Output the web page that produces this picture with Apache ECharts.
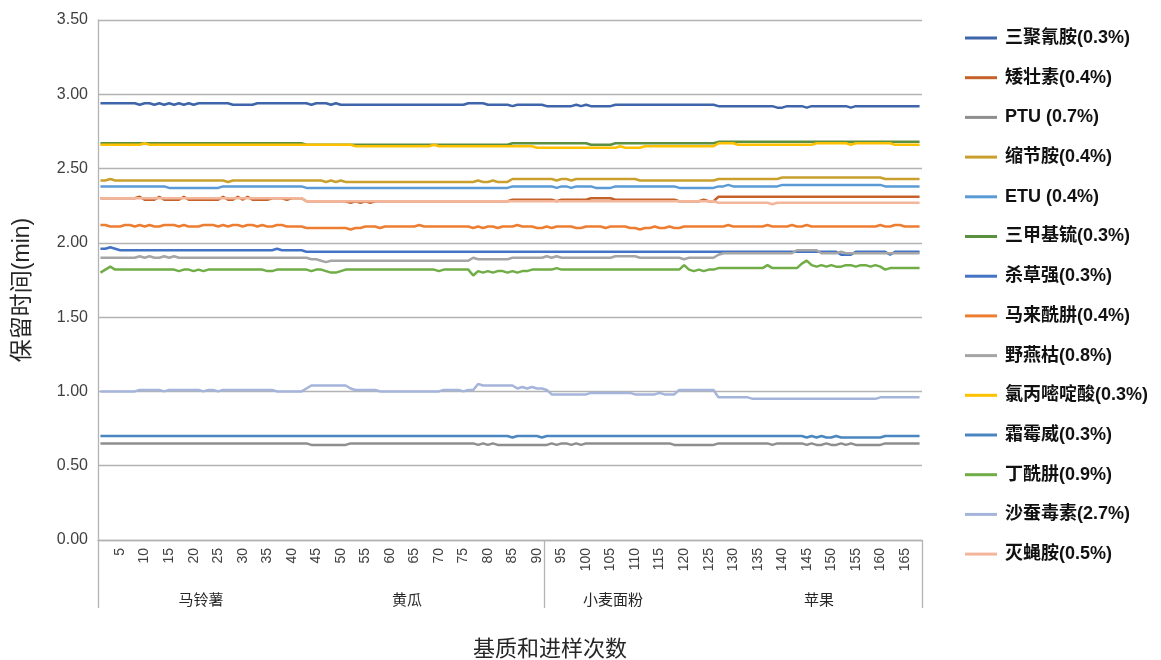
<!DOCTYPE html>
<html><head><meta charset="utf-8">
<script src="https://cdn.jsdelivr.net/npm/echarts@6/dist/echarts.min.js"></script>
<style>html,body{margin:0;padding:0;background:#fff}#c{width:1161px;height:660px}</style>
</head><body><div id="c"></div>
<script>
// injection numbers 1..168
const injections = Array.from({length: 168}, (_, i) => String(i + 1));
const matrices = ['马铃薯', '黄瓜', '小麦面粉', '苹果'];
const seriesNames = ['三聚氰胺(0.3%)','矮壮素(0.4%)','PTU (0.7%)','缩节胺(0.4%)','ETU (0.4%)','三甲基锍(0.3%)','杀草强(0.3%)','马来酰肼(0.4%)','野燕枯(0.8%)','氯丙嘧啶酸(0.3%)','霜霉威(0.3%)','丁酰肼(0.9%)','沙蚕毒素(2.7%)','灭蝇胺(0.5%)'];
const colors = ['#3E64AA','#C5622A','#8E8E8E','#C9A02E','#5B9BD5','#5A9040','#4472C4','#ED7D31','#A5A5A5','#FFC000','#4A86C0','#70AD47','#A4B4DA','#F4B69A'];

const sanjuqingan = [
2.94,2.94,2.94,2.94,2.94,2.94,2.94,2.94,2.93,2.94,2.94,2.93,2.94,2.93,2.94,2.93,2.94,2.93,2.94,2.93,2.94,
2.94,2.94,2.94,2.94,2.94,2.94,2.93,2.93,2.93,2.93,2.93,2.94,2.94,2.94,2.94,2.94,2.94,2.94,2.94,2.94,2.94,
2.94,2.93,2.94,2.94,2.94,2.93,2.94,2.93,2.93,2.93,2.93,2.93,2.93,2.93,2.93,2.93,2.93,2.93,2.93,2.93,2.93,
2.93,2.93,2.93,2.93,2.93,2.93,2.93,2.93,2.93,2.93,2.93,2.93,2.94,2.94,2.94,2.94,2.93,2.93,2.93,2.93,2.93,
2.92,2.93,2.93,2.93,2.93,2.93,2.93,2.92,2.92,2.92,2.92,2.92,2.92,2.93,2.92,2.93,2.92,2.92,2.92,2.92,2.92,
2.93,2.93,2.93,2.93,2.93,2.93,2.93,2.93,2.93,2.93,2.93,2.93,2.93,2.93,2.93,2.93,2.93,2.93,2.93,2.93,2.93,
2.92,2.92,2.92,2.92,2.92,2.92,2.92,2.92,2.92,2.92,2.92,2.92,2.91,2.91,2.92,2.92,2.92,2.92,2.91,2.92,2.92,
2.92,2.92,2.92,2.92,2.92,2.92,2.91,2.92,2.92,2.92,2.92,2.92,2.92,2.92,2.92,2.92,2.92,2.92,2.92,2.92,2.92];

const aizhuangsu = [
2.30,2.30,2.30,2.30,2.30,2.30,2.30,2.30,2.31,2.29,2.29,2.29,2.31,2.29,2.29,2.29,2.29,2.31,2.29,2.29,2.29,
2.29,2.29,2.29,2.29,2.31,2.29,2.29,2.31,2.29,2.31,2.29,2.29,2.29,2.29,2.30,2.30,2.30,2.29,2.30,2.30,2.30,
2.28,2.28,2.28,2.28,2.28,2.28,2.28,2.28,2.28,2.27,2.28,2.27,2.28,2.27,2.28,2.28,2.28,2.28,2.28,2.28,2.28,
2.28,2.28,2.28,2.28,2.28,2.28,2.28,2.28,2.28,2.28,2.28,2.28,2.28,2.28,2.28,2.28,2.28,2.28,2.28,2.28,2.28,
2.29,2.29,2.29,2.29,2.29,2.29,2.29,2.29,2.29,2.28,2.29,2.29,2.29,2.29,2.29,2.29,2.30,2.30,2.30,2.30,2.30,
2.29,2.29,2.29,2.29,2.29,2.29,2.29,2.29,2.29,2.29,2.29,2.29,2.29,2.28,2.28,2.28,2.28,2.28,2.29,2.28,2.28,
2.31,2.31,2.31,2.31,2.31,2.31,2.31,2.31,2.31,2.31,2.31,2.31,2.31,2.31,2.31,2.31,2.31,2.31,2.31,2.31,2.31,
2.31,2.31,2.31,2.31,2.31,2.31,2.31,2.31,2.31,2.31,2.31,2.31,2.31,2.31,2.31,2.31,2.31,2.31,2.31,2.31,2.31];

const ptu = [
0.65,0.65,0.65,0.65,0.65,0.65,0.65,0.65,0.65,0.65,0.65,0.65,0.65,0.65,0.65,0.65,0.65,0.65,0.65,0.65,0.65,
0.65,0.65,0.65,0.65,0.65,0.65,0.65,0.65,0.65,0.65,0.65,0.65,0.65,0.65,0.65,0.65,0.65,0.65,0.65,0.65,0.65,
0.65,0.64,0.64,0.64,0.64,0.64,0.64,0.64,0.64,0.65,0.65,0.65,0.65,0.65,0.65,0.65,0.65,0.65,0.65,0.65,0.65,
0.65,0.65,0.65,0.65,0.65,0.65,0.65,0.65,0.65,0.65,0.65,0.65,0.65,0.65,0.64,0.65,0.64,0.65,0.64,0.64,0.64,
0.64,0.64,0.64,0.64,0.64,0.64,0.64,0.64,0.65,0.64,0.65,0.65,0.64,0.65,0.64,0.65,0.65,0.65,0.65,0.65,0.65,
0.65,0.65,0.65,0.65,0.65,0.65,0.65,0.65,0.65,0.65,0.65,0.65,0.64,0.64,0.64,0.64,0.64,0.64,0.64,0.64,0.64,
0.65,0.65,0.65,0.65,0.65,0.65,0.65,0.65,0.65,0.65,0.65,0.64,0.65,0.65,0.65,0.65,0.65,0.65,0.64,0.65,0.64,
0.64,0.65,0.64,0.64,0.65,0.64,0.65,0.64,0.64,0.64,0.64,0.64,0.64,0.65,0.65,0.65,0.65,0.65,0.65,0.65,0.65];

const suojiean = [
2.42,2.42,2.43,2.42,2.42,2.42,2.42,2.42,2.42,2.42,2.42,2.42,2.42,2.42,2.42,2.42,2.42,2.42,2.42,2.42,2.42,
2.42,2.42,2.42,2.42,2.42,2.41,2.42,2.42,2.42,2.42,2.42,2.42,2.42,2.42,2.42,2.42,2.42,2.42,2.42,2.42,2.42,
2.42,2.42,2.42,2.42,2.41,2.42,2.41,2.42,2.41,2.41,2.41,2.41,2.41,2.41,2.41,2.41,2.41,2.41,2.41,2.41,2.41,
2.41,2.41,2.41,2.41,2.41,2.41,2.41,2.41,2.41,2.41,2.41,2.41,2.41,2.41,2.42,2.41,2.41,2.42,2.41,2.41,2.41,
2.43,2.43,2.43,2.43,2.43,2.43,2.43,2.43,2.43,2.42,2.43,2.43,2.42,2.43,2.43,2.43,2.43,2.43,2.43,2.43,2.43,
2.43,2.43,2.43,2.43,2.43,2.42,2.42,2.42,2.42,2.42,2.42,2.42,2.42,2.42,2.42,2.42,2.42,2.42,2.42,2.42,2.42,
2.43,2.43,2.43,2.43,2.43,2.43,2.43,2.43,2.43,2.43,2.43,2.43,2.43,2.44,2.44,2.44,2.44,2.44,2.44,2.44,2.44,
2.44,2.44,2.44,2.44,2.44,2.44,2.44,2.44,2.44,2.44,2.44,2.44,2.44,2.43,2.43,2.43,2.43,2.43,2.43,2.43,2.43];

const etu = [
2.38,2.38,2.38,2.38,2.38,2.38,2.38,2.38,2.38,2.38,2.38,2.38,2.38,2.38,2.37,2.37,2.37,2.37,2.37,2.37,2.37,
2.37,2.37,2.37,2.37,2.38,2.38,2.38,2.38,2.38,2.38,2.38,2.38,2.38,2.38,2.38,2.38,2.38,2.38,2.38,2.38,2.38,
2.37,2.37,2.37,2.37,2.37,2.37,2.37,2.37,2.37,2.37,2.37,2.37,2.37,2.37,2.37,2.37,2.37,2.37,2.37,2.37,2.37,
2.37,2.37,2.37,2.37,2.37,2.37,2.37,2.37,2.37,2.37,2.37,2.37,2.37,2.37,2.37,2.37,2.37,2.37,2.37,2.37,2.37,
2.38,2.38,2.38,2.38,2.38,2.38,2.38,2.38,2.38,2.37,2.38,2.38,2.37,2.38,2.38,2.38,2.38,2.37,2.37,2.37,2.37,
2.38,2.38,2.38,2.38,2.38,2.38,2.38,2.38,2.38,2.38,2.38,2.38,2.38,2.37,2.37,2.37,2.37,2.37,2.37,2.37,2.37,
2.38,2.38,2.39,2.38,2.38,2.38,2.38,2.38,2.38,2.38,2.38,2.38,2.38,2.39,2.39,2.39,2.39,2.39,2.39,2.39,2.39,
2.39,2.39,2.39,2.39,2.39,2.39,2.39,2.39,2.39,2.39,2.39,2.39,2.39,2.38,2.38,2.38,2.38,2.38,2.38,2.38,2.38];

const sanjiajiliu = [
2.67,2.67,2.67,2.67,2.67,2.67,2.67,2.67,2.67,2.67,2.67,2.67,2.67,2.67,2.67,2.67,2.67,2.67,2.67,2.67,2.67,
2.67,2.67,2.67,2.67,2.67,2.67,2.67,2.67,2.67,2.67,2.67,2.67,2.67,2.67,2.67,2.67,2.67,2.67,2.67,2.67,2.67,
2.66,2.66,2.66,2.66,2.66,2.66,2.66,2.66,2.66,2.66,2.66,2.66,2.66,2.66,2.66,2.66,2.66,2.66,2.66,2.66,2.66,
2.66,2.66,2.66,2.66,2.66,2.66,2.66,2.66,2.66,2.66,2.66,2.66,2.66,2.66,2.66,2.66,2.66,2.66,2.66,2.66,2.66,
2.67,2.67,2.67,2.67,2.67,2.67,2.67,2.67,2.67,2.67,2.67,2.67,2.67,2.67,2.67,2.67,2.66,2.66,2.66,2.66,2.66,
2.67,2.67,2.67,2.67,2.67,2.67,2.67,2.67,2.67,2.67,2.67,2.67,2.67,2.67,2.67,2.67,2.67,2.67,2.67,2.67,2.67,
2.68,2.68,2.68,2.68,2.68,2.68,2.68,2.68,2.68,2.68,2.68,2.68,2.68,2.68,2.68,2.68,2.68,2.68,2.68,2.68,2.68,
2.68,2.68,2.68,2.68,2.68,2.68,2.68,2.68,2.68,2.68,2.68,2.68,2.68,2.68,2.68,2.68,2.68,2.68,2.68,2.68,2.68];

const shacaoqiang = [
1.96,1.96,1.97,1.96,1.95,1.95,1.95,1.95,1.95,1.95,1.95,1.95,1.95,1.95,1.95,1.95,1.95,1.95,1.95,1.95,1.95,
1.95,1.95,1.95,1.95,1.95,1.95,1.95,1.95,1.95,1.95,1.95,1.95,1.95,1.95,1.95,1.96,1.95,1.95,1.95,1.95,1.95,
1.94,1.94,1.94,1.94,1.94,1.94,1.94,1.94,1.94,1.94,1.94,1.94,1.94,1.94,1.94,1.94,1.94,1.94,1.94,1.94,1.94,
1.94,1.94,1.94,1.94,1.94,1.94,1.94,1.94,1.94,1.94,1.94,1.94,1.94,1.94,1.94,1.94,1.94,1.94,1.94,1.94,1.94,
1.94,1.94,1.94,1.94,1.94,1.94,1.94,1.94,1.94,1.94,1.94,1.94,1.94,1.94,1.94,1.94,1.94,1.94,1.94,1.94,1.94,
1.94,1.94,1.94,1.94,1.94,1.94,1.94,1.94,1.94,1.94,1.94,1.94,1.94,1.94,1.94,1.94,1.94,1.94,1.94,1.94,1.94,
1.94,1.94,1.94,1.94,1.94,1.94,1.94,1.94,1.94,1.94,1.94,1.94,1.94,1.94,1.94,1.94,1.94,1.94,1.94,1.94,1.94,
1.94,1.94,1.94,1.94,1.92,1.92,1.92,1.94,1.94,1.94,1.94,1.94,1.94,1.94,1.92,1.94,1.94,1.94,1.94,1.94,1.94];

const malaixianjing = [
2.12,2.12,2.11,2.11,2.11,2.12,2.12,2.11,2.12,2.11,2.12,2.11,2.11,2.12,2.12,2.12,2.11,2.12,2.11,2.11,2.11,
2.12,2.12,2.12,2.11,2.12,2.11,2.12,2.12,2.11,2.12,2.12,2.11,2.12,2.11,2.11,2.12,2.12,2.11,2.11,2.11,2.11,
2.10,2.10,2.10,2.10,2.10,2.10,2.10,2.10,2.10,2.09,2.10,2.10,2.11,2.11,2.11,2.10,2.11,2.11,2.11,2.11,2.11,
2.11,2.11,2.12,2.11,2.11,2.11,2.11,2.11,2.11,2.11,2.11,2.11,2.11,2.10,2.11,2.10,2.11,2.11,2.10,2.11,2.11,
2.11,2.12,2.11,2.11,2.11,2.10,2.10,2.11,2.10,2.11,2.11,2.11,2.11,2.10,2.10,2.11,2.11,2.11,2.11,2.10,2.11,
2.11,2.11,2.11,2.10,2.10,2.09,2.10,2.10,2.11,2.10,2.10,2.11,2.10,2.10,2.11,2.11,2.11,2.11,2.11,2.11,2.11,
2.11,2.11,2.12,2.11,2.11,2.11,2.11,2.11,2.11,2.11,2.12,2.11,2.11,2.11,2.11,2.12,2.11,2.11,2.12,2.11,2.11,
2.11,2.11,2.11,2.11,2.11,2.11,2.11,2.11,2.11,2.11,2.11,2.11,2.12,2.11,2.11,2.12,2.12,2.11,2.11,2.11,2.11];

const yeyanku = [
1.90,1.90,1.90,1.90,1.90,1.90,1.90,1.90,1.91,1.90,1.91,1.90,1.90,1.91,1.90,1.91,1.90,1.90,1.90,1.90,1.90,
1.90,1.90,1.90,1.90,1.90,1.90,1.90,1.90,1.90,1.90,1.90,1.90,1.90,1.90,1.90,1.90,1.90,1.90,1.90,1.90,1.90,
1.90,1.89,1.89,1.88,1.87,1.88,1.88,1.88,1.88,1.88,1.88,1.88,1.88,1.88,1.88,1.88,1.88,1.88,1.88,1.88,1.88,
1.88,1.88,1.88,1.88,1.88,1.88,1.88,1.88,1.88,1.88,1.88,1.88,1.88,1.90,1.89,1.89,1.89,1.89,1.89,1.89,1.89,
1.90,1.90,1.90,1.90,1.90,1.90,1.90,1.91,1.90,1.91,1.90,1.90,1.90,1.90,1.90,1.90,1.90,1.90,1.90,1.90,1.90,
1.91,1.91,1.91,1.91,1.91,1.90,1.90,1.90,1.90,1.90,1.90,1.90,1.90,1.90,1.89,1.90,1.90,1.90,1.90,1.90,1.90,
1.92,1.93,1.93,1.93,1.93,1.93,1.93,1.93,1.93,1.93,1.93,1.93,1.93,1.93,1.93,1.93,1.95,1.95,1.95,1.95,1.95,
1.93,1.93,1.93,1.93,1.94,1.93,1.93,1.93,1.93,1.93,1.93,1.93,1.93,1.93,1.93,1.93,1.93,1.93,1.93,1.93,1.93];

const lvbingmidingsuan = [
2.66,2.66,2.66,2.66,2.66,2.66,2.66,2.66,2.66,2.67,2.66,2.66,2.66,2.66,2.66,2.66,2.66,2.66,2.66,2.66,2.66,
2.66,2.66,2.66,2.66,2.66,2.66,2.66,2.66,2.66,2.66,2.66,2.66,2.66,2.66,2.66,2.66,2.66,2.66,2.66,2.66,2.66,
2.66,2.66,2.66,2.66,2.66,2.66,2.66,2.66,2.66,2.66,2.65,2.65,2.65,2.65,2.65,2.65,2.65,2.65,2.65,2.65,2.65,
2.65,2.65,2.65,2.65,2.65,2.66,2.65,2.65,2.65,2.65,2.65,2.65,2.65,2.65,2.65,2.65,2.65,2.65,2.65,2.65,2.65,
2.65,2.65,2.65,2.65,2.65,2.64,2.64,2.64,2.64,2.64,2.64,2.64,2.64,2.64,2.64,2.64,2.64,2.64,2.64,2.64,2.64,
2.64,2.65,2.64,2.64,2.64,2.64,2.65,2.65,2.65,2.65,2.65,2.65,2.65,2.65,2.65,2.65,2.65,2.65,2.65,2.65,2.65,
2.67,2.67,2.67,2.67,2.66,2.66,2.66,2.66,2.66,2.66,2.66,2.66,2.66,2.66,2.66,2.66,2.66,2.66,2.66,2.66,2.67,
2.67,2.67,2.67,2.67,2.67,2.67,2.66,2.67,2.67,2.67,2.67,2.67,2.67,2.67,2.67,2.66,2.66,2.66,2.66,2.66,2.66];

const shuangmeiwei = [
0.70,0.70,0.70,0.70,0.70,0.70,0.70,0.70,0.70,0.70,0.70,0.70,0.70,0.70,0.70,0.70,0.70,0.70,0.70,0.70,0.70,
0.70,0.70,0.70,0.70,0.70,0.70,0.70,0.70,0.70,0.70,0.70,0.70,0.70,0.70,0.70,0.70,0.70,0.70,0.70,0.70,0.70,
0.70,0.70,0.70,0.70,0.70,0.70,0.70,0.70,0.70,0.70,0.70,0.70,0.70,0.70,0.70,0.70,0.70,0.70,0.70,0.70,0.70,
0.70,0.70,0.70,0.70,0.70,0.70,0.70,0.70,0.70,0.70,0.70,0.70,0.70,0.70,0.70,0.70,0.70,0.70,0.70,0.70,0.70,
0.69,0.70,0.70,0.70,0.70,0.70,0.69,0.70,0.70,0.70,0.70,0.70,0.70,0.70,0.70,0.70,0.70,0.70,0.70,0.70,0.70,
0.70,0.70,0.70,0.70,0.70,0.70,0.70,0.70,0.70,0.70,0.70,0.70,0.70,0.70,0.70,0.70,0.70,0.70,0.70,0.70,0.70,
0.70,0.70,0.70,0.70,0.70,0.70,0.70,0.70,0.70,0.70,0.70,0.70,0.70,0.70,0.70,0.70,0.70,0.70,0.69,0.70,0.69,
0.70,0.69,0.69,0.70,0.69,0.69,0.69,0.69,0.69,0.69,0.69,0.69,0.69,0.70,0.70,0.70,0.70,0.70,0.70,0.70,0.70];

const dingxianjing = [
1.80,1.82,1.84,1.82,1.82,1.82,1.82,1.82,1.82,1.82,1.82,1.82,1.82,1.82,1.82,1.82,1.81,1.82,1.82,1.81,1.82,
1.81,1.82,1.82,1.82,1.82,1.82,1.82,1.82,1.82,1.82,1.82,1.82,1.82,1.81,1.81,1.82,1.82,1.82,1.82,1.82,1.82,
1.82,1.81,1.82,1.82,1.81,1.80,1.80,1.81,1.82,1.82,1.82,1.82,1.82,1.82,1.82,1.82,1.82,1.82,1.82,1.82,1.82,
1.82,1.82,1.82,1.82,1.82,1.82,1.81,1.82,1.82,1.82,1.82,1.82,1.82,1.78,1.81,1.80,1.81,1.80,1.81,1.81,1.80,
1.81,1.80,1.81,1.81,1.82,1.82,1.82,1.82,1.82,1.83,1.82,1.82,1.82,1.82,1.82,1.82,1.82,1.82,1.82,1.82,1.82,
1.82,1.82,1.82,1.82,1.82,1.82,1.82,1.82,1.82,1.82,1.82,1.82,1.82,1.82,1.85,1.82,1.81,1.82,1.81,1.82,1.82,
1.83,1.83,1.83,1.83,1.83,1.83,1.83,1.83,1.83,1.83,1.85,1.83,1.83,1.83,1.83,1.83,1.83,1.86,1.88,1.85,1.84,
1.85,1.84,1.85,1.84,1.84,1.85,1.85,1.84,1.85,1.85,1.84,1.85,1.84,1.82,1.83,1.83,1.83,1.83,1.83,1.83,1.83];

const shacandusu = [
1.00,1.00,1.00,1.00,1.00,1.00,1.00,1.00,1.01,1.01,1.01,1.01,1.01,1.00,1.01,1.01,1.01,1.01,1.01,1.01,1.01,
1.00,1.01,1.01,1.00,1.01,1.01,1.01,1.01,1.01,1.01,1.01,1.01,1.01,1.01,1.01,1.00,1.00,1.00,1.00,1.00,1.00,
1.02,1.04,1.04,1.04,1.04,1.04,1.04,1.04,1.04,1.02,1.01,1.01,1.01,1.01,1.01,1.00,1.00,1.00,1.00,1.00,1.00,
1.00,1.00,1.00,1.00,1.00,1.00,1.00,1.01,1.01,1.01,1.01,1.00,1.01,1.01,1.05,1.04,1.04,1.04,1.04,1.04,1.04,
1.04,1.02,1.03,1.02,1.03,1.02,1.02,1.01,0.98,0.98,0.98,0.98,0.98,0.98,0.98,0.98,0.99,0.99,0.99,0.99,0.99,
0.99,0.99,0.99,0.99,0.98,0.98,0.98,0.98,0.98,0.99,0.98,0.98,0.98,1.01,1.01,1.01,1.01,1.01,1.01,1.01,1.01,
0.96,0.96,0.96,0.96,0.96,0.96,0.96,0.95,0.95,0.95,0.95,0.95,0.95,0.95,0.95,0.95,0.95,0.95,0.95,0.95,0.95,
0.95,0.95,0.95,0.95,0.95,0.95,0.95,0.95,0.95,0.95,0.95,0.95,0.96,0.96,0.96,0.96,0.96,0.96,0.96,0.96,0.96];

const mieyingan = [
2.30,2.30,2.30,2.30,2.30,2.30,2.30,2.30,2.30,2.30,2.30,2.30,2.30,2.30,2.30,2.30,2.30,2.30,2.30,2.30,2.30,
2.30,2.30,2.30,2.30,2.30,2.30,2.30,2.30,2.30,2.30,2.30,2.30,2.30,2.30,2.30,2.30,2.30,2.30,2.30,2.30,2.30,
2.28,2.28,2.28,2.28,2.28,2.28,2.28,2.28,2.28,2.28,2.28,2.28,2.28,2.28,2.28,2.28,2.28,2.28,2.28,2.28,2.28,
2.28,2.28,2.28,2.28,2.28,2.28,2.28,2.28,2.28,2.28,2.28,2.28,2.28,2.28,2.28,2.28,2.28,2.28,2.28,2.28,2.28,
2.28,2.28,2.28,2.28,2.28,2.28,2.28,2.28,2.28,2.28,2.28,2.28,2.28,2.28,2.28,2.28,2.28,2.28,2.28,2.28,2.28,
2.28,2.28,2.28,2.28,2.28,2.28,2.28,2.28,2.28,2.28,2.28,2.28,2.28,2.28,2.28,2.28,2.28,2.28,2.28,2.28,2.28,
2.27,2.27,2.27,2.27,2.27,2.27,2.27,2.27,2.27,2.27,2.27,2.26,2.27,2.27,2.27,2.27,2.27,2.27,2.27,2.27,2.27,
2.27,2.27,2.27,2.27,2.27,2.27,2.27,2.27,2.27,2.27,2.27,2.27,2.27,2.27,2.27,2.27,2.27,2.27,2.27,2.27,2.27];

const seriesData = [sanjuqingan, aizhuangsu, ptu, suojiean, etu, sanjiajiliu, shacaoqiang, malaixianjing, yeyanku, lvbingmidingsuan, shuangmeiwei, dingxianjing, shacandusu, mieyingan];

const FONT = '"Liberation Sans", Arial, "Noto Sans CJK SC", sans-serif';
const GRAY = '#b3b3b3';
const chart = echarts.init(document.getElementById('c'));
chart.setOption({
  animation: false,
  backgroundColor: '#fff',
  textStyle: {fontFamily: FONT},
  title: {
    text: '基质和进样次数', left: 468, top: 634,
    textStyle: {fontSize: 22, fontWeight: 'normal', color: '#262626', fontFamily: FONT}
  },
  grid: {left: 98, right: 239, top: 20, bottom: 120, containLabel: false, outerBoundsMode: 'none'},
  legend: {
    orient: 'vertical', left: 960, top: 24,
    icon: 'rect', itemWidth: 32, itemHeight: 3, itemGap: 21.7,
    textStyle: {fontSize: 18, fontWeight: 'bold', color: '#111', lineHeight: 18, fontFamily: FONT, padding: [0, 0, 0, 3]},
    data: seriesNames
  },
  xAxis: [{
    type: 'category', data: injections, boundaryGap: true,
    axisLine: {show: true, lineStyle: {color: GRAY, width: 1.3}},
    axisTick: {show: true, interval: (i) => i === 0 || i === 91, length: 68, lineStyle: {color: GRAY, width: 1.3}},
    axisLabel: {interval: (i) => (i + 1) % 5 === 0, rotate: 90, fontSize: 14, color: '#404040', margin: 8},
    splitLine: {show: false}
  }, {
    type: 'category', data: matrices, position: 'bottom', boundaryGap: true,
    axisLine: {show: false}, axisTick: {show: false}, splitLine: {show: false},
    axisLabel: {margin: 53, fontSize: 15, color: '#262626'}
  }],
  yAxis: {
    type: 'value', min: 0, max: 3.5, interval: 0.5,
    axisLine: {show: true, lineStyle: {color: GRAY, width: 1.3}},
    axisTick: {show: false},
    splitLine: {lineStyle: {color: GRAY, width: 1.3}},
    axisLabel: {formatter: (v) => v.toFixed(2), fontSize: 16, color: '#404040', margin: 10},
    name: '保留时间(min)', nameLocation: 'middle', nameGap: 64,
    nameTextStyle: {fontSize: 23, color: '#262626', padding: [0, 20, 0, 0]}
  },
  series: seriesNames.map((n, k) => ({
    name: n, type: 'line', data: seriesData[k], xAxisIndex: 0,
    symbol: 'none', showSymbol: false,
    lineStyle: {width: 2.5, color: colors[k]},
    itemStyle: {color: colors[k]}
  }))
});
</script></body></html>
